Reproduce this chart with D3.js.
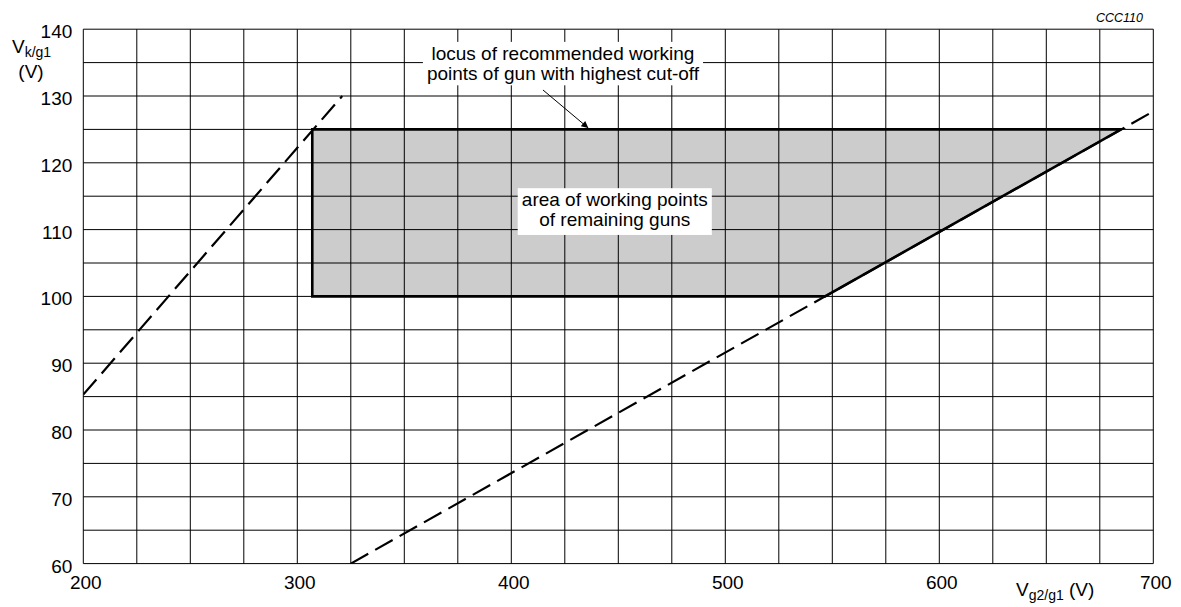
<!DOCTYPE html>
<html>
<head>
<meta charset="utf-8">
<script src="https://cdn.jsdelivr.net/npm/d3@7"></script>
<style>
  body { margin: 0; background: #fff; }
  svg { font-family: "Liberation Sans", Arial, sans-serif; }
</style>
</head>
<body>
<div id="container"></div>
<script>
// ------ Data ------
const xTicks = [200, 300, 400, 500, 600, 700];
const yTicks = [60, 70, 80, 90, 100, 110, 120, 130, 140];
const xGrid = d3.range(200, 701, 25);
const yGrid = d3.range(60, 141, 5);

// working area outline (Vg2/g1, Vk/g1)
const areaX = [307, 307, 685, 546.6];
const areaY = [100, 125, 125, 100];

// dashed limit lines
const leftLineX = [200, 321];
const leftLineY = [85.3, 130];
const rightLineX = [325, 700];
const rightLineY = [60, 127.7];

// annotations
const locusText = ["locus of recommended working", "points of gun with highest cut-off"];
const locusBox = { x: [358.7, 489.6], y: [131.6, 138.1] };
const locusArrow = { x: [414.8, 436], y: [130.9, 125.2] };
const areaText = ["area of working points", "of remaining guns"];
const areaBox = { x: [403, 493.7], y: [109.2, 116.2] };

// ------ Global Values ------
const width = 1181,
  height = 607;
const margin = { left: 83.3, right: 27.7, top: 29.2, bottom: 43.4 };

const svg = d3.select('#container').append('svg')
  .attr('width', width)
  .attr('height', height);

const x = d3.scaleLinear().domain([200, 700]).range([margin.left, width - margin.right]);
const y = d3.scaleLinear().domain([60, 140]).range([height - margin.bottom, margin.top]);

svg.append('defs').append('clipPath').attr('id', 'plot')
  .append('rect')
  .attr('x', x(200)).attr('y', y(140))
  .attr('width', x(700) - x(200)).attr('height', y(60) - y(140));

svg.select('defs').append('marker')
  .attr('id', 'arrow')
  .attr('viewBox', '0 0 10 10')
  .attr('refX', 10).attr('refY', 5)
  .attr('markerWidth', 13).attr('markerHeight', 7)
  .attr('markerUnits', 'userSpaceOnUse')
  .attr('orient', 'auto')
  .append('path').attr('d', 'M0,0 L10,5 L0,10 z').attr('fill', '#000');

const areaPts = areaX.map((v, i) => [x(v), y(areaY[i])]);

// shaded area
svg.append('polygon')
  .attr('points', areaPts.map(p => p.join(',')).join(' '))
  .attr('fill', '#cccccc');

// grid
const grid = svg.append('g').attr('stroke', '#000').attr('stroke-width', 1);
grid.selectAll('.vx').data(xGrid).enter().append('line')
  .attr('x1', d => x(d)).attr('x2', d => x(d))
  .attr('y1', y(60)).attr('y2', y(140));
grid.selectAll('.hy').data(yGrid).enter().append('line')
  .attr('y1', d => y(d)).attr('y2', d => y(d))
  .attr('x1', x(200)).attr('x2', x(700));

// white label boxes
for (const b of [locusBox, areaBox]) {
  svg.append('rect')
    .attr('x', x(b.x[0])).attr('y', y(b.y[1]))
    .attr('width', x(b.x[1]) - x(b.x[0]))
    .attr('height', y(b.y[0]) - y(b.y[1]))
    .attr('fill', '#fff');
}

// dashed lines
const line = d3.line();
const dashed = svg.append('g').attr('clip-path', 'url(#plot)')
  .attr('fill', 'none').attr('stroke', '#000')
  .attr('stroke-width', 2.2).attr('stroke-dasharray', '20,8');
dashed.append('path').attr('d', line(leftLineX.map((v, i) => [x(v), y(leftLineY[i])])));
dashed.append('path').attr('d', line(rightLineX.map((v, i) => [x(v), y(rightLineY[i])])));

// area outline
svg.append('polygon')
  .attr('points', areaPts.map(p => p.join(',')).join(' '))
  .attr('fill', 'none').attr('stroke', '#000').attr('stroke-width', 2.6);

// arrow
svg.append('line')
  .attr('x1', x(locusArrow.x[0])).attr('y1', y(locusArrow.y[0]))
  .attr('x2', x(locusArrow.x[1])).attr('y2', y(locusArrow.y[1]))
  .attr('stroke', '#000').attr('stroke-width', 1)
  .attr('marker-end', 'url(#arrow)');

// annotation texts
const locusCx = (x(locusBox.x[0]) + x(locusBox.x[1])) / 2;
svg.append('g').selectAll('text').data(locusText).enter().append('text')
  .attr('x', locusCx).attr('y', (d, i) => 60 + i * 20)
  .attr('text-anchor', 'middle').attr('font-size', 19).text(d => d);

const areaCx = (x(areaBox.x[0]) + x(areaBox.x[1])) / 2;
svg.append('g').selectAll('text').data(areaText).enter().append('text')
  .attr('x', areaCx).attr('y', (d, i) => 206 + i * 20)
  .attr('text-anchor', 'middle').attr('font-size', 19).text(d => d);

// axes
const yAxis = svg.append('g')
  .attr('transform', `translate(${margin.left},0)`)
  .call(d3.axisLeft(y).tickValues(yTicks).tickSize(0).tickPadding(11));
yAxis.select('.domain').remove();
yAxis.selectAll('text').attr('dy', '0.45em')
  .attr('font-size', 19).attr('font-family', null).attr('fill', '#000');

const xAxis = svg.append('g')
  .attr('transform', `translate(0,${height - margin.bottom})`)
  .call(d3.axisBottom(x).tickValues(xTicks).tickSize(0).tickPadding(12));
xAxis.select('.domain').remove();
xAxis.selectAll('text').attr('dx', 2)
  .attr('font-size', 19).attr('font-family', null).attr('fill', '#000');

// axis titles
const yTitle = svg.append('text').attr('x', 12).attr('y', 53).attr('font-size', 19);
yTitle.append('tspan').text('V');
yTitle.append('tspan').attr('dy', 4).attr('font-size', 14).text('k/g1');
svg.append('text').attr('x', 31).attr('y', 78).attr('text-anchor', 'middle')
  .attr('font-size', 19).text('(V)');

const xTitle = svg.append('text').attr('x', 1016).attr('y', 596).attr('font-size', 19);
xTitle.append('tspan').text('V');
xTitle.append('tspan').attr('dy', 4).attr('font-size', 14).text('g2/g1');
xTitle.append('tspan').attr('dy', -4).attr('font-size', 19).text(' (V)');

svg.append('text').attr('x', 1143).attr('y', 21.5).attr('text-anchor', 'end')
  .attr('font-size', 12.5).attr('font-style', 'italic').text('CCC110');
</script>
</body>
</html>
